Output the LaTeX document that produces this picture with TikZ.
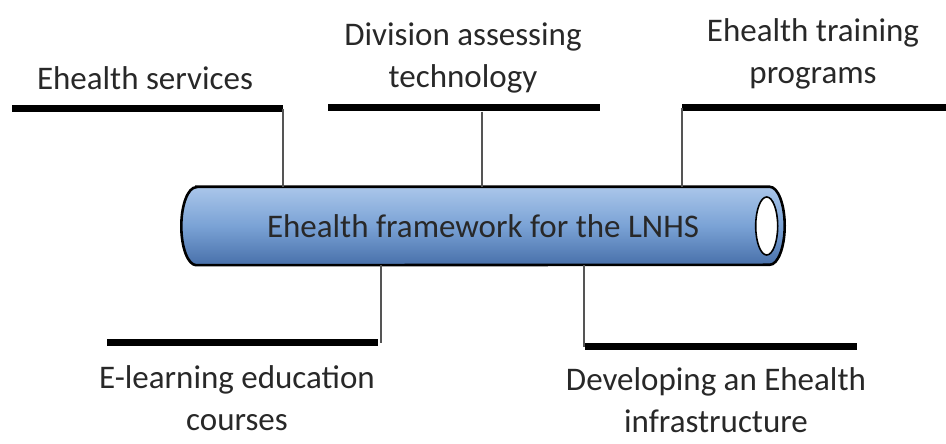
\documentclass[tikz,border=0pt]{standalone}
\usepackage{fontspec}
\setmainfont{Carlito}
\usetikzlibrary{calc}
\usetikzlibrary{backgrounds}
\definecolor{pipetop}{RGB}{170,198,234}
\definecolor{pipemid}{RGB}{122,162,213}
\definecolor{pipebot}{RGB}{72,112,170}
\definecolor{stemgray}{RGB}{85,85,85}
\definecolor{textgray}{RGB}{40,40,40}

\begin{document}
\begin{tikzpicture}[x=1pt,y=1pt]
			\tikzset{bar/.style={fill=black,inner sep=0pt,minimum height=7pt}}
			\tikzset{stem/.style={draw=stemgray,line width=2pt}}
			\tikzset{label/.style={align=center,inner sep=0pt,text=textgray,font=\fontsize{33}{42}\selectfont}}
			\tikzset{pipe/.style={draw=black,line width=2.6pt,shading=axis,top color=pipetop,bottom color=pipebot,middle color=pipemid}}

			\useasboundingbox (0,0) rectangle (946,444);

			% the pipe
			\node[label,minimum width=603pt,minimum height=78pt] (frame) at (483,218) {Ehealth framework for the LNHS};
			\begin{scope}[on background layer]
				\path[pipe] ([xshift=15pt]frame.north west) -- ([xshift=-15pt]frame.north east)
					arc[start angle=90,end angle=-90,x radius=15pt,y radius=39pt]
					-- ([xshift=15pt]frame.south west)
					arc[start angle=270,end angle=90,x radius=15pt,y radius=39pt] -- cycle;
			\end{scope}
			\draw[fill=white,line width=1.6pt] ([xshift=-18pt]frame.east) ellipse [x radius=11pt,y radius=29pt];

			% bars above
			\node[bar,minimum width=271pt] (bar1) at (147.5,335) {};
			\node[bar,minimum width=272pt] (bar2) at (464,336) {};
			\node[bar,minimum width=264pt] (bar3) at (814,336) {};

			% bars below
			\node[bar,minimum width=271pt] (bar4) at (242.5,101) {};
			\node[bar,minimum width=272pt] (bar5) at (721,97) {};

			\node[label] (lab1) at (145,366) {Ehealth services};
			\node[label] (lab2) at (463,386) {Division assessing\\technology};
			\node[label] (lab3) at (813,390) {Ehealth training\\programs};
			\node[label] (lab4) at (237,46) {E-learning education\\courses};
			\node[label] (lab5) at (716,44) {Developing an Ehealth\\infrastructure};

			\path[stem] (bar1.east) -- (bar1.east |- frame.north);
			\path[stem] ([xshift=18pt]bar2.south) -- ([xshift=18pt]bar2.south |- frame.north);
			\path[stem] (bar3.west) -- (bar3.west |- frame.north);
			\path[stem] ([xshift=3pt]bar4.east) -- ([xshift=3pt]bar4.east |- frame.south);
			\path[stem] ([xshift=-1pt]bar5.west) -- ([xshift=-1pt]bar5.west |- frame.south);
		\end{tikzpicture}
\end{document}
